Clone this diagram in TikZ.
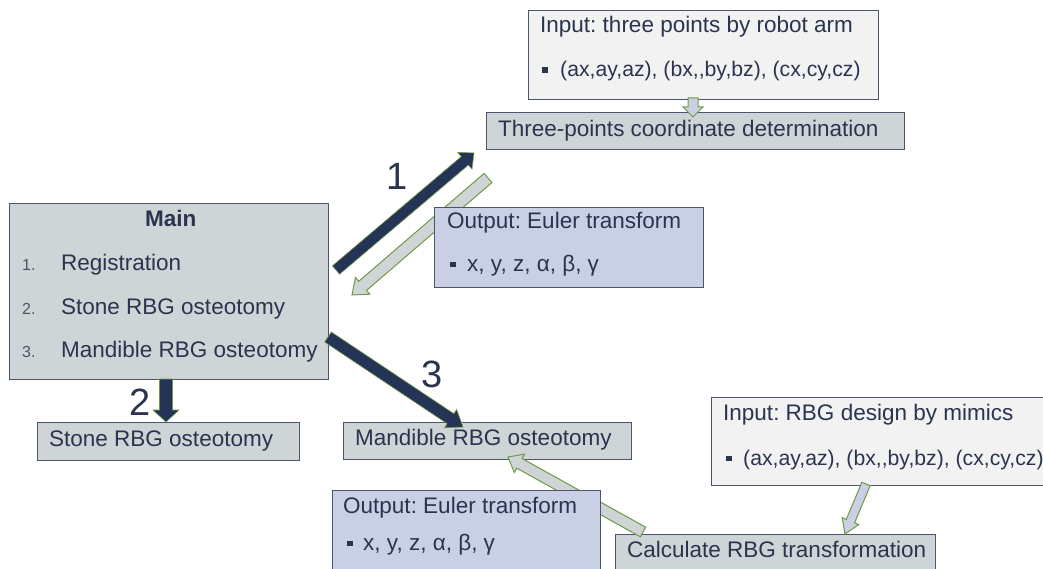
\documentclass[tikz,border=0pt]{standalone}
\usepackage{fontspec}
\setmainfont{Liberation Sans}[Ligatures=NoCommon]
\usetikzlibrary{calc}
\definecolor{txtc}{HTML}{2A344F}
\definecolor{numc}{HTML}{4A5468}
\definecolor{edgec}{HTML}{4B566E}
\definecolor{grayfill}{HTML}{CFD5D6}
\definecolor{lightfill}{HTML}{F2F2F2}
\definecolor{lavfill}{HTML}{C9D0E5}
\definecolor{navy}{HTML}{253356}
\definecolor{greenedge}{HTML}{6F9A45}
\tikzset{
 box/.style={draw=edgec, line width=1pt, inner sep=0pt, anchor=north west},
 graybox/.style={box, fill=grayfill},
 lightbox/.style={box, fill=lightfill},
 lavbox/.style={box, fill=lavfill},
 txt/.style={inner sep=0pt, anchor=base west, text=txtc, font=\fontsize{22.5}{27}\selectfont},
 coordtxt/.style={txt, font=\fontsize{21.2}{26}\selectfont},
 boldtxt/.style={txt, font=\fontsize{22.5}{27}\selectfont\bfseries},
 num/.style={inner sep=0pt, anchor=base west, text=numc, font=\fontsize{16}{19}\selectfont},
 biglabel/.style={inner sep=0pt, anchor=base west, text=txtc, font=\fontsize{38}{44}\selectfont},
 darkarrow/.style={fill=navy, draw=greenedge, line width=0.6pt, line join=miter},
 grayarrow/.style={fill=grayfill, draw=greenedge, line width=1pt},
 lavarrow/.style={fill=lavfill, draw=greenedge, line width=1pt},
}
\newcommand\sqbullet{\raisebox{4pt}{\rule{5.5pt}{5.5pt}}}
% #1 style, #2 tail, #3 tip, #4 half shaft, #5 half head, #6 head length
\newcommand\blkarrow[6]{%
  \coordinate (bah) at ($(#3)!#6!(#2)$);
  \filldraw[#1] ($(#2)!#4!90:(#3)$) -- ($(bah)!#4!90:(#3)$) -- ($(bah)!#5!90:(#3)$)
    -- (#3) -- ($(bah)!#5!-90:(#3)$) -- ($(bah)!#4!-90:(#3)$) -- ($(#2)!#4!-90:(#3)$) -- cycle;
}
\frenchspacing
\begin{document}
\frenchspacing
\begin{tikzpicture}[x=1pt,y=-1pt]
\useasboundingbox (0,0) rectangle (1043,569);
% boxes
\node[lightbox, minimum width=350pt, minimum height=89pt] (inA) at (528,10) {};
\node[graybox, minimum width=418pt, minimum height=37pt] (three) at (486,112) {};
\node[graybox, minimum width=319pt, minimum height=176pt] (main) at (9,203) {};
\node[graybox, minimum width=262pt, minimum height=38pt] (stone) at (37,422) {};
\node[graybox, minimum width=288pt, minimum height=37pt] (mand) at (343,422) {};
\node[lightbox, minimum width=345pt, minimum height=88pt] (inB) at (711,397) {};
\node[graybox, minimum width=320pt, minimum height=50pt] (calc) at (615,534) {};
% arrow end points
\coordinate (a1t) at (336,270);   \coordinate (a1h) at (474,153);
\coordinate (g1t) at (488,178);   \coordinate (g1h) at (352,295);
\coordinate (a2t) at (166,379);   \coordinate (a2h) at (166,422);
\coordinate (a3t) at (328,337);   \coordinate (a3h) at (463,427);
\coordinate (g2t) at (643,532);   \coordinate (g2h) at (508,457);
\coordinate (l1t) at (693,98);    \coordinate (l1h) at (693,117);
\coordinate (l2t) at (866,484);   \coordinate (l2h) at (845,534);
% arrows
\blkarrow{lavarrow}{l1t}{l1h}{5pt}{10pt}{10pt}
\blkarrow{darkarrow}{a1t}{a1h}{5.5pt}{11pt}{12pt}
\blkarrow{grayarrow}{g1t}{g1h}{6pt}{11pt}{14pt}
\blkarrow{darkarrow}{a2t}{a2h}{6.5pt}{13pt}{12pt}
\blkarrow{darkarrow}{a3t}{a3h}{6pt}{11pt}{15pt}
\blkarrow{grayarrow}{g2t}{g2h}{5.5pt}{10.5pt}{13pt}
\blkarrow{lavarrow}{l2t}{l2h}{4.5pt}{9pt}{14pt}
% output boxes drawn over arrows
\node[lavbox, minimum width=269pt, minimum height=80pt] (out1) at (434,207) {};
\node[lavbox, minimum width=268pt, minimum height=90pt] (out2) at (332,490) {};
% texts
\node[txt] (tA1) at (540,33) {Input: three points by robot arm};
\node[coordtxt] (tA2) at (542,77) {\sqbullet\hskip 12.5pt(ax,ay,az), (bx,{},by,bz), (cx,cy,cz)};
\node[txt] (tthree) at (498,137) {Three-points coordinate determination};
\node[boldtxt] (tmain) at (145,226) {Main};
\node[num] (n1) at (22,270) {1.};
\node[num] (n2) at (22,314) {2.};
\node[num] (n3) at (22,357) {3.};
\node[txt] (m1) at (61,270) {Registration};
\node[txt] (m2) at (61,314) {Stone RBG osteotomy};
\node[txt] (m3) at (61,357) {Mandible RBG osteotomy};
\node[txt] (to1) at (447,229) {Output: Euler transform};
\node[txt] (to1b) at (450,271) {\sqbullet\hskip 11.5pt x, y, z, α, β, γ};
\node[txt] (tstone) at (49,446) {Stone RBG osteotomy};
\node[txt] (tmand) at (355,445) {Mandible RBG osteotomy};
\node[txt] (tB1) at (723,420) {Input: RBG design by mimics};
\node[coordtxt] (tB2) at (726,465) {\sqbullet\hskip 11.5pt(ax,ay,az), (bx,{},by,bz), (cx,cy,cz)};
\node[txt] (to2) at (343,513) {Output: Euler transform};
\node[txt] (to2b) at (347,550) {\sqbullet\hskip 10.5pt x, y, z, α, β, γ};
\node[txt] (tcalc) at (627,557) {Calculate RBG transformation};
\node[biglabel] (L1) at (386,190) {1};
\node[biglabel] (L2) at (129,415) {2};
\node[biglabel] (L3) at (421,387) {3};
\end{tikzpicture}
\end{document}
